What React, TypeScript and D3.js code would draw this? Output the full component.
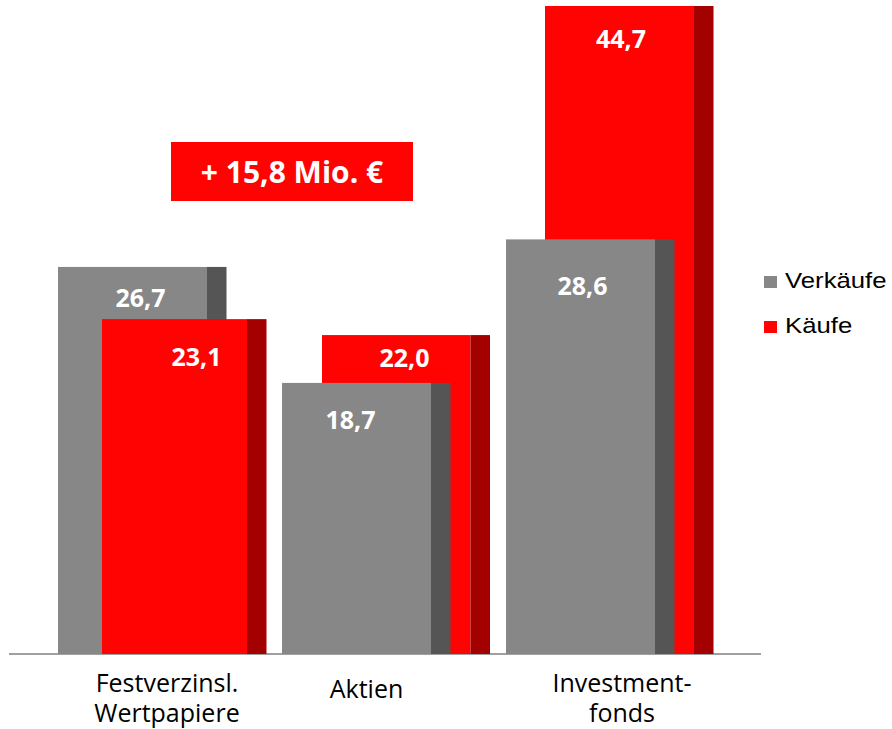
import React from "react";
import * as d3 from "d3";

const categories: string[][] = [["Festverzinsl.", "Wertpapiere"], ["Aktien"], ["Investment-", "fonds"]];
const verkaeufe: number[] = [26.7, 18.7, 28.6];
const kaeufe: number[] = [23.1, 22.0, 44.7];
const seriesNames: string[] = ["Verkäufe", "Käufe"];
const annotation = "+ 15,8 Mio. €";

// layout constants
const W = 892, H = 729;
const baseY = 654;
const greyFaceW = [149, 149, 149];
const redFaceW = [145, 148.5, 149];
const sideW = 19.5;
const redOffset = [44, 40, 39];
const greyLabel = [{ dx: 8, dy: 40 }, { dx: -6, dy: 46 }, { dx: 2, dy: 56 }];
const redLabel = [{ dx: 20, dy: 47 }, { dx: 8, dy: 32 }, { dx: 1.5, dy: 42 }];
const catLabelX = [167, 366.5, 622];

const C = {
  grey: "#878787", greySide: "#555555",
  red: "#ff0303", redSide: "#a30000",
  axis: "#a0a0a0",
};

const fmt = (v: number) => v.toFixed(1).replace(".", ",");

export default function App() {
  const x = d3.scaleBand<number>().domain([0, 1, 2]).range([58, 58 + 224 * 3]).padding(0);
  const y = d3.scaleLinear().domain([0, 44.7]).range([baseY, 6]);

  const bar = (x0: number, fw: number, v: number, face: string, side: string, key: string) => (
    <g key={key}>
      <rect x={x0} y={y(v)} width={fw} height={baseY - y(v)} fill={face} />
      <rect x={x0 + fw} y={y(v)} width={sideW} height={baseY - y(v)} fill={side} />
    </g>
  );
  const label = (x0: number, fw: number, v: number, off: { dx: number; dy: number }, key: string) => (
    <text key={key} x={x0 + fw / 2 + off.dx} y={y(v) + off.dy} textAnchor="middle"
      fontFamily="'Open Sans', sans-serif" fontWeight={700} fontSize={25} fill="#fff">{fmt(v)}</text>
  );

  return (
    <svg width={W} height={H} style={{ position: "absolute", left: 0, top: 0 }}>
      <rect width={W} height={H} fill="#fff" />
      <line x1={9} x2={761} y1={baseY} y2={baseY} stroke={C.axis} strokeWidth={2} />
      {categories.map((_, i) => {
        const gx = x(i)!;
        const rx = gx + redOffset[i];
        const greyEl = [bar(gx, greyFaceW[i], verkaeufe[i], C.grey, C.greySide, "g" + i), label(gx, greyFaceW[i], verkaeufe[i], greyLabel[i], "gl" + i)];
        const redEl = [bar(rx, redFaceW[i], kaeufe[i], C.red, C.redSide, "r" + i), label(rx, 149, kaeufe[i], redLabel[i], "rl" + i)];
        return (
          <g key={i}>
            {verkaeufe[i] >= kaeufe[i] ? [...greyEl, ...redEl] : [...redEl, ...greyEl]}
          </g>
        );
      })}
      {categories.map((lines, i) => (
        <text key={"c" + i} x={catLabelX[i]} textAnchor="middle" fontFamily="'Open Sans', sans-serif" fontSize={25} fill="#000">
          {lines.map((l, j) => (
            <tspan key={j} x={catLabelX[i]} y={(lines.length === 1 ? 698 : 692) + j * 30}>{l}</tspan>
          ))}
        </text>
      ))}
      <rect x={171} y={142} width={242} height={59} fill={C.red} />
      <text x={292} y={183} textAnchor="middle" fontFamily="'Open Sans', sans-serif" fontWeight={700} fontSize={30} fill="#fff">{annotation}</text>
      {seriesNames.map((n, i) => (
        <g key={n}>
          <rect x={764} y={276 + i * 45} width={13} height={12} fill={i === 0 ? C.grey : C.red} />
          <text transform={`translate(785,${288 + i * 45}) scale(1.17,1)`} fontFamily="'Liberation Sans', Arial, sans-serif" fontSize={22} fill="#000">{n}</text>
        </g>
      ))}
    </svg>
  );
}
